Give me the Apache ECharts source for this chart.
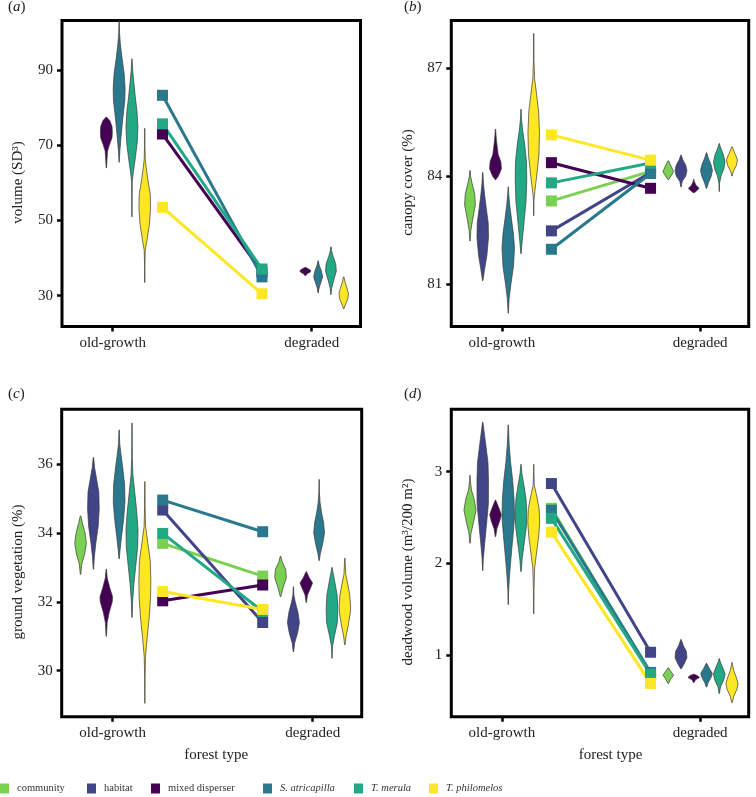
<!DOCTYPE html>
<html>
<head>
<meta charset="utf-8">
<script src="https://cdn.jsdelivr.net/npm/echarts@6/dist/echarts.min.js"></script>
<style>html,body{margin:0;padding:0;background:#fff}#c{width:756px;height:797px}</style>
</head>
<body>
<div id="c"></div>
<script>
// ---------- data ----------
const groups = ['community', 'habitat', 'mixed disperser', 'S. atricapilla', 'T. merula', 'T. philomelos'];
const palette = ['#7AD151', '#414487', '#440154', '#2A788E', '#22A884', '#FDE725'];
const forestTypes = ['old-growth', 'degraded'];

// (a) volume
const volumeTicks = [30, 50, 70, 90];
const volumeOld = [null, null, 73.0, 83.3, 75.7, 53.5];
const volumeDeg = [null, null, 36.3, 35.0, 37.1, 30.5];
const volumeViolinOld = [null, null,
  [[64, 0.03], [66, 0.1], [68.5, 0.2], [70, 0.5], [72, 0.95], [73.5, 1], [75, 0.95], [76.5, 0.6], [77.5, 0.05]],
  [[65.5, 0.02], [68, 0.1], [72, 0.3], [77, 0.6], [82, 0.95], [85, 1], [89, 0.85], [93, 0.5], [97, 0.2], [100, 0.06], [103.5, 0.02]],
  [[51, 0.02], [56, 0.03], [60.5, 0.05], [63, 0.25], [67, 0.6], [71, 0.9], [75, 1], [79, 0.85], [83, 0.55], [87, 0.3], [90, 0.12], [93, 0.02]],
  [[33.5, 0.02], [38, 0.03], [42, 0.08], [45, 0.4], [49, 0.78], [53, 0.97], [57, 0.92], [61, 0.5], [64, 0.25], [66, 0.1], [70, 0.03], [74.5, 0.02]]
];
const volumeViolinDeg = [null, null,
  [[35.3, 0.05], [35.8, 0.3], [36.3, 0.85], [36.7, 0.9], [37.1, 0.55], [37.5, 0.08]],
  [[30.7, 0.02], [32, 0.15], [33.5, 0.45], [35, 0.75], [36.5, 0.55], [38, 0.2], [39.3, 0.02]],
  [[30.3, 0.02], [32, 0.12], [34, 0.45], [36.5, 0.9], [38.5, 0.8], [40.5, 0.35], [42, 0.1], [43, 0.02]],
  [[26.5, 0.03], [27.5, 0.25], [29, 0.65], [30.5, 0.8], [32, 0.55], [33.5, 0.25], [35, 0.03]]
];

// (b) canopy cover
const canopyTicks = [81, 84, 87];
const canopyOld = [83.31, 82.48, 84.37, 81.97, 83.81, 85.14];
const canopyDeg = [84.13, 84.1, 83.66, 84.07, 84.36, 84.44];
const canopyViolinOld = [
  [[82.2, 0.03], [82.5, 0.15], [82.8, 0.45], [83.2, 0.9], [83.5, 0.8], [83.8, 0.35], [84.0, 0.1], [84.15, 0.03]],
  [[81.1, 0.03], [81.4, 0.3], [81.8, 0.7], [82.3, 0.97], [82.7, 0.92], [83.1, 0.6], [83.5, 0.3], [83.8, 0.12], [84.1, 0.03]],
  [[83.9, 0.05], [84.0, 0.5], [84.2, 1], [84.4, 0.9], [84.6, 0.45], [84.8, 0.3], [85.0, 0.15], [85.3, 0.02]],
  [[80.2, 0.02], [80.6, 0.15], [81.0, 0.45], [81.5, 0.88], [82.0, 1.05], [82.4, 0.88], [82.8, 0.55], [83.2, 0.25], [83.5, 0.08], [83.7, 0.02]],
  [[81.85, 0.03], [82.2, 0.2], [82.7, 0.5], [83.3, 0.85], [83.9, 0.97], [84.4, 0.92], [84.9, 0.6], [85.3, 0.25], [85.6, 0.08], [85.85, 0.02]],
  [[82.9, 0.02], [83.3, 0.04], [83.6, 0.2], [84.0, 0.5], [84.6, 0.88], [85.2, 0.97], [85.8, 0.82], [86.3, 0.45], [86.7, 0.15], [87.2, 0.04], [87.95, 0.02]]
];
const canopyViolinDeg = [
  [[83.9, 0.05], [84.0, 0.45], [84.12, 0.9], [84.25, 0.55], [84.42, 0.05]],
  [[83.7, 0.03], [83.85, 0.2], [84.0, 0.8], [84.15, 1], [84.3, 0.8], [84.45, 0.3], [84.58, 0.03]],
  [[83.54, 0.1], [83.6, 0.55], [83.66, 0.9], [83.75, 0.35], [83.85, 0.1], [83.91, 0.02]],
  [[83.66, 0.05], [83.8, 0.3], [84.0, 0.8], [84.15, 1], [84.3, 0.8], [84.5, 0.3], [84.65, 0.02]],
  [[83.57, 0.02], [83.8, 0.05], [84.0, 0.3], [84.2, 0.78], [84.4, 0.97], [84.6, 0.68], [84.8, 0.2], [84.9, 0.03]],
  [[84.0, 0.03], [84.12, 0.2], [84.3, 0.75], [84.45, 0.92], [84.6, 0.55], [84.81, 0.03]]
];

// (c) ground vegetation
const groundTicks = [30, 32, 34, 36];
const groundOld = [33.7, 34.67, 32.03, 34.96, 33.99, 32.3];
const groundDeg = [32.75, 31.4, 32.49, 34.04, 31.72, 31.78];
const groundViolinOld = [
  [[32.8, 0.04], [33.1, 0.2], [33.4, 0.7], [33.7, 0.97], [34.0, 0.75], [34.3, 0.3], [34.5, 0.05]],
  [[32.95, 0.03], [33.3, 0.15], [33.7, 0.4], [34.2, 0.8], [34.7, 0.97], [35.2, 0.9], [35.6, 0.5], [35.9, 0.2], [36.2, 0.03]],
  [[31.0, 0.03], [31.4, 0.15], [31.7, 0.5], [32.0, 1], [32.15, 1.05], [32.4, 0.6], [32.7, 0.15], [32.95, 0.03]],
  [[33.25, 0.03], [33.5, 0.15], [33.9, 0.4], [34.4, 0.75], [34.9, 0.97], [35.4, 0.92], [35.9, 0.6], [36.3, 0.3], [36.6, 0.1], [37.0, 0.02]],
  [[31.55, 0.03], [32.0, 0.1], [32.5, 0.3], [33.0, 0.6], [33.6, 0.95], [34.1, 1], [34.6, 0.8], [35.2, 0.45], [35.7, 0.15], [36.2, 0.05], [37.2, 0.02]],
  [[29.05, 0.02], [29.8, 0.04], [30.4, 0.1], [30.9, 0.35], [31.5, 0.7], [32.1, 0.95], [32.6, 1], [33.2, 0.9], [33.7, 0.5], [34.2, 0.12], [34.8, 0.04], [35.5, 0.02]]
];
const groundViolinDeg = [
  [[32.15, 0.04], [32.4, 0.4], [32.7, 0.97], [32.95, 0.85], [33.15, 0.3], [33.33, 0.03]],
  [[30.55, 0.04], [30.8, 0.2], [31.1, 0.7], [31.4, 1], [31.7, 0.75], [32.0, 0.3], [32.2, 0.08], [32.44, 0.02]],
  [[31.98, 0.03], [32.2, 0.2], [32.4, 0.7], [32.55, 1.05], [32.7, 0.5], [32.88, 0.03]],
  [[33.2, 0.03], [33.4, 0.2], [33.7, 0.6], [34.0, 0.9], [34.3, 0.75], [34.6, 0.4], [34.9, 0.15], [35.2, 0.04], [35.56, 0.02]],
  [[30.36, 0.02], [30.7, 0.08], [31.0, 0.4], [31.4, 0.9], [31.8, 0.97], [32.2, 0.85], [32.6, 0.45], [32.9, 0.12], [33.0, 0.03]],
  [[30.75, 0.04], [31.0, 0.2], [31.3, 0.55], [31.7, 0.92], [31.9, 0.95], [32.2, 0.82], [32.5, 0.5], [32.8, 0.15], [33.27, 0.02]]
];

// (d) deadwood volume
const deadwoodTicks = [1, 2, 3];
const deadwoodOld = [2.6, 2.87, null, 2.58, 2.49, 2.34];
const deadwoodDeg = [0.8, 1.03, null, 0.81, 0.79, 0.69];
const deadwoodViolinOld = [
  [[2.22, 0.03], [2.32, 0.15], [2.45, 0.6], [2.58, 1.02], [2.7, 0.7], [2.8, 0.25], [2.9, 0.06], [2.96, 0.02]],
  [[1.92, 0.02], [2.05, 0.1], [2.2, 0.3], [2.4, 0.6], [2.65, 0.95], [2.9, 0.97], [3.1, 0.88], [3.3, 0.5], [3.45, 0.2], [3.54, 0.03]],
  [[2.29, 0.03], [2.38, 0.25], [2.46, 0.7], [2.53, 0.97], [2.6, 0.6], [2.69, 0.03]],
  [[1.55, 0.02], [1.7, 0.06], [1.85, 0.2], [2.05, 0.45], [2.3, 0.8], [2.5, 1.05], [2.7, 0.98], [2.9, 0.75], [3.1, 0.4], [3.3, 0.15], [3.51, 0.02]],
  [[1.91, 0.03], [2.05, 0.2], [2.2, 0.5], [2.4, 0.9], [2.55, 0.97], [2.7, 0.85], [2.85, 0.5], [2.98, 0.15], [3.08, 0.02]],
  [[1.45, 0.02], [1.7, 0.05], [1.95, 0.15], [2.1, 0.45], [2.3, 0.85], [2.45, 1], [2.6, 0.9], [2.75, 0.45], [2.85, 0.1], [3.0, 0.03], [3.08, 0.02]]
];
const deadwoodViolinDeg = [
  [[0.69, 0.05], [0.74, 0.45], [0.78, 0.9], [0.82, 0.45], [0.86, 0.03]],
  [[0.85, 0.05], [0.9, 0.5], [0.97, 1], [1.04, 0.9], [1.1, 0.4], [1.17, 0.03]],
  [[0.7, 0.05], [0.73, 0.3], [0.755, 0.97], [0.775, 0.65], [0.79, 0.05]],
  [[0.65, 0.04], [0.7, 0.3], [0.76, 0.8], [0.8, 0.97], [0.85, 0.5], [0.91, 0.03]],
  [[0.58, 0.03], [0.65, 0.2], [0.72, 0.7], [0.79, 1], [0.86, 0.6], [0.92, 0.2], [0.96, 0.03]],
  [[0.48, 0.03], [0.55, 0.3], [0.63, 0.85], [0.69, 1.02], [0.76, 0.7], [0.83, 0.3], [0.9, 0.05], [0.92, 0.02]]
];

// ---------- layout ----------
const FONT = 'Liberation Serif';
const SLOT = 0.0643;   // dodge step (x units)
const HW = 0.03;       // violin half-width per unit density (x units)
const SQX = [1.25, 1.75];

const panels = [
  { label: 'a', yName: 'volume (SD³)', xName: '', ticks: volumeTicks, ymin: 21.8, ymax: 103.2,
    old: volumeOld, deg: volumeDeg, vOld: volumeViolinOld, vDeg: volumeViolinDeg,
    grid: { left: 62, top: 20.5, width: 298.5, height: 306 }, title: { left: 8, top: 0 } },
  { label: 'b', yName: 'canopy cover (%)', xName: '', ticks: canopyTicks, ymin: 79.83, ymax: 88.31,
    old: canopyOld, deg: canopyDeg, vOld: canopyViolinOld, vDeg: canopyViolinDeg,
    grid: { left: 451.3, top: 20.5, width: 297.4, height: 306 }, title: { left: 404, top: 0 } },
  { label: 'c', yName: 'ground vegetation (%)', xName: 'forest type', ticks: groundTicks, ymin: 28.66, ymax: 37.6,
    old: groundOld, deg: groundDeg, vOld: groundViolinOld, vDeg: groundViolinDeg,
    grid: { left: 61.7, top: 409.3, width: 300, height: 307.4 }, title: { left: 8, top: 387 }, xPad: 9 },
  { label: 'd', yName: 'deadwood volume (m³/200 m²)', xName: 'forest type', ticks: deadwoodTicks, ymin: 0.327, ymax: 3.68,
    old: deadwoodOld, deg: deadwoodDeg, vOld: deadwoodViolinOld, vDeg: deadwoodViolinDeg,
    grid: { left: 451.3, top: 409.3, width: 297.4, height: 307.4 }, title: { left: 404, top: 387 }, xPad: 21 }
];
const legendLeft = [0, 87, 151, 263, 354, 429];

// ---------- build option ----------
const grids = [], xAxes = [], yAxes = [], titles = [], series = [];
panels.forEach((p, pi) => {
  grids.push(Object.assign({ show: true, borderColor: '#000', borderWidth: 3, backgroundColor: 'transparent' }, p.grid));
  titles.push({
    text: '({i|' + p.label + '})', left: p.title.left, top: p.title.top, padding: 0,
    textStyle: { fontFamily: FONT, fontSize: 15, fontWeight: 'normal', color: '#222',
      rich: { i: { fontFamily: FONT, fontSize: 15, fontStyle: 'italic', color: '#222' } } }
  });
  xAxes.push({
    type: 'value', gridIndex: pi, min: 0.745, max: 2.245,
    axisLine: { show: false }, splitLine: { show: false },
    axisTick: { show: true, customValues: [1, 2], length: 5, lineStyle: { color: '#000', width: 2.5 } },
    axisLabel: { show: true, customValues: [1, 2], margin: 9, fontFamily: FONT, fontSize: 15, color: '#222',
      formatter: v => forestTypes[Math.round(v) - 1] },
    name: p.xName, nameLocation: 'middle', nameGap: 31,
    nameTextStyle: { fontFamily: FONT, fontSize: 15, color: '#222', padding: [0, 0, 0, p.xPad || 0] }
  });
  yAxes.push({
    type: 'value', gridIndex: pi, min: p.ymin, max: p.ymax,
    axisLine: { show: false }, splitLine: { show: false },
    axisTick: { show: true, customValues: p.ticks, length: 5, lineStyle: { color: '#000', width: 2.5 } },
    axisLabel: { show: true, customValues: p.ticks, margin: 9, fontFamily: FONT, fontSize: 15, color: '#222' },
    name: p.yName, nameLocation: 'middle', nameGap: 36, nameRotate: 90,
    nameTextStyle: { fontFamily: FONT, fontSize: 15, color: '#222', padding: [0, 18, 0, 0] }
  });

  // violins
  groups.forEach((g, gi) => {
    const profs = [p.vOld[gi], p.vDeg[gi]];
    const items = [], profList = [];
    profs.forEach((prof, f) => {
      if (prof) { items.push([f + 1 + (gi - 2.5) * SLOT, prof[0][0]]); profList.push(prof); }
    });
    if (!items.length) return;
    series.push({
      type: 'custom', name: g, xAxisIndex: pi, yAxisIndex: pi, z: 2, clip: true, silent: true,
      itemStyle: { color: palette[gi] },
      data: items,
      renderItem: (params, api) => {
        const prof = profList[params.dataIndex];
        const xc = api.value(0);
        const right = prof.map(([v, d]) => api.coord([xc + d * HW, v]));
        const left = prof.slice().reverse().map(([v, d]) => api.coord([xc - d * HW, v]));
        return { type: 'polygon', shape: { points: right.concat(left) },
          style: { fill: palette[gi], stroke: '#3a3a3a', lineWidth: 0.7 } };
      }
    });
  });
  // mean lines with square markers
  groups.forEach((g, gi) => {
    if (p.old[gi] == null) return;
    series.push({
      type: 'line', name: g, xAxisIndex: pi, yAxisIndex: pi, z: 3, silent: true,
      data: [[SQX[0], p.old[gi]], [SQX[1], p.deg[gi]]],
      symbol: 'rect', symbolSize: 11, showSymbol: true,
      lineStyle: { width: 3, color: palette[gi] }, itemStyle: { color: palette[gi] }
    });
  });
});

const legends = groups.map((g, i) => ({
  data: [g], left: legendLeft[i], top: 783, padding: 0, icon: 'rect', itemWidth: 9, itemHeight: 10,
  selectedMode: false,
  textStyle: { fontFamily: FONT, fontSize: 10.5, color: '#333', fontStyle: i >= 3 ? 'italic' : 'normal', padding: [0, 0, 0, 3] }
}));

const chart = echarts.init(document.getElementById('c'), null, { renderer: 'canvas' });
chart.setOption({
  animation: false,
  backgroundColor: '#fff',
  title: titles,
  legend: legends,
  grid: grids,
  xAxis: xAxes,
  yAxis: yAxes,
  series: series
});
</script>
</body>
</html>
